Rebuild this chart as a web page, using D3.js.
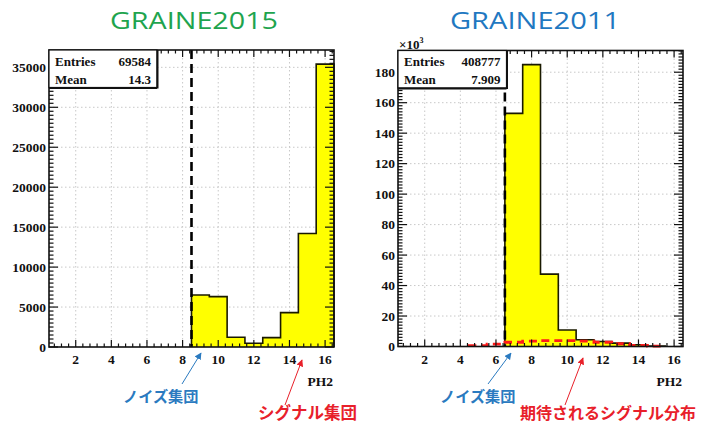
<!DOCTYPE html>
<html>
<head>
<meta charset="utf-8">
<script src="https://cdn.jsdelivr.net/npm/d3@7"></script>
<style>
  html, body { margin: 0; padding: 0; background: #fff; }
  svg { display: block; }
  .tick-label { font-family: "Liberation Serif", "Times New Roman", Times, "DejaVu Serif", serif; font-weight: bold; font-size: 13.5px; fill: #111; }
  .stat { font-family: "Liberation Serif", "Times New Roman", Times, "DejaVu Serif", serif; font-weight: bold; font-size: 13px; fill: #111; }
  .title { font-family: "Open Sans", "Lato", sans-serif; font-size: 24px; }
  .jp { font-family: "Noto Sans CJK JP", sans-serif; font-weight: bold; }
</style>
</head>
<body>
<svg id="chart" width="706" height="423"></svg>
<script>
// PH2 bins: centres of unit-wide bins from 0.5 to 16.5
const ph2Bins = [1, 2, 3, 4, 5, 6, 7, 8, 9, 10, 11, 12, 13, 14, 15, 16];
const xTicks = [2, 4, 6, 8, 10, 12, 14, 16];

// GRAINE2015 counts per bin
const counts2015 = [0, 0, 0, 0, 0, 0, 0, 0, 6500, 6300, 1220, 460, 1170, 4300, 14200, 35400];
const yTicks2015 = [0, 5000, 10000, 15000, 20000, 25000, 30000, 35000];
const stats2015 = { entries: "69584", mean: "14.3" };
const cut2015 = 8.5;

// GRAINE2011 counts per bin, and the expected signal distribution
const counts2011 = [0, 0, 0, 0, 0, 0, 153000, 185000, 47500, 10800, 4400, 3300, 2200, 1100, 300, 0];
const signal2011 = [0, 0, 0, 0, 600, 1600, 2800, 3500, 3900, 3900, 3500, 2800, 1800, 700, 200, 0];
const yTicks2011 = [0, 20, 40, 60, 80, 100, 120, 140, 160, 180]; // in units of 10^3
const stats2011 = { entries: "408777", mean: "7.909" };
const cut2011 = 6.5;

const svg = d3.select("#chart");

function stepPath(x, y, values) {
  // outline of a histogram: from the first filled bin to the last, dropping to zero at both ends
  const idx = values.map((v, i) => v > 0 ? i : -1).filter(i => i >= 0);
  const first = idx[0], last = idx[idx.length - 1];
  const p = d3.path();
  p.moveTo(x(ph2Bins[first] - 0.5), y(0));
  for (let i = first; i <= last; i++) {
    p.lineTo(x(ph2Bins[i] - 0.5), y(values[i]));
    p.lineTo(x(ph2Bins[i] + 0.5), y(values[i]));
  }
  p.lineTo(x(ph2Bins[last] + 0.5), y(0));
  return p.toString();
}

function drawPanel(opts) {
  const { left, right, top, bottom, counts, yScaleFactor, yTicks, yMinor, stats, cut, signal } = opts;
  const g = svg.append("g");
  const x = d3.scaleLinear().domain([0.5, 16.5]).range([left, right]);
  const yMax = d3.max(counts) * 1.05 / yScaleFactor;
  const yv = d3.scaleLinear().domain([0, yMax]).range([bottom, top]);
  const y = v => yv(v / yScaleFactor);

  // dotted grid
  g.append("g").selectAll("line.gx").data(xTicks).join("line")
    .attr("x1", d => x(d)).attr("x2", d => x(d)).attr("y1", top).attr("y2", bottom)
    .attr("stroke", "#c8c8c8").attr("stroke-width", 1).attr("stroke-dasharray", "1.5,2.5");
  g.append("g").selectAll("line.gy").data(yTicks.filter(t => t > 0)).join("line")
    .attr("x1", left).attr("x2", right).attr("y1", d => yv(d)).attr("y2", d => yv(d))
    .attr("stroke", "#c8c8c8").attr("stroke-width", 1).attr("stroke-dasharray", "1.5,2.5");

  // histogram
  g.append("path").attr("d", stepPath(x, y, counts))
    .attr("fill", "#ffff00").attr("stroke", "#1a1a00").attr("stroke-width", 1.6)
    .attr("stroke-linejoin", "miter");

  if (signal) {
    g.append("path").attr("d", stepPath(x, y, signal))
      .attr("fill", "none").attr("stroke", "#ff1a1a").attr("stroke-width", 2.8)
      .attr("stroke-dasharray", "8,5");
  }

  // cut line
  g.append("line").attr("x1", x(cut)).attr("x2", x(cut)).attr("y1", top).attr("y2", bottom)
    .attr("stroke", "#000").attr("stroke-width", 2.6).attr("stroke-dasharray", "9,5");

  // ticks (inward, on all four sides)
  const xMinor = d3.range(0.8, 16.5, 0.4);
  const yMinorTicks = d3.range(0, yMax, yMinor);
  const tk = g.append("g").attr("stroke", "#111").attr("stroke-width", 1.2);
  xMinor.forEach(t => {
    const major = Math.abs(t / 2 - Math.round(t / 2)) < 1e-6;
    const len = major ? 7 : 3.5;
    tk.append("line").attr("x1", x(t)).attr("x2", x(t)).attr("y1", bottom).attr("y2", bottom - len);
    tk.append("line").attr("x1", x(t)).attr("x2", x(t)).attr("y1", top).attr("y2", top + len);
  });
  yMinorTicks.forEach(t => {
    const major = yTicks.some(m => Math.abs(m - t) < 1e-6);
    const len = major ? 9 : 4.5;
    tk.append("line").attr("x1", left).attr("x2", left + len).attr("y1", yv(t)).attr("y2", yv(t));
    tk.append("line").attr("x1", right).attr("x2", right - len).attr("y1", yv(t)).attr("y2", yv(t));
  });

  // frame
  g.append("rect").attr("x", left).attr("y", top).attr("width", right - left).attr("height", bottom - top)
    .attr("fill", "none").attr("stroke", "#111").attr("stroke-width", 1.6);

  // tick labels
  g.append("g").selectAll("text").data(xTicks).join("text").attr("class", "tick-label")
    .attr("x", d => x(d)).attr("y", bottom + 17).attr("text-anchor", "middle").text(d => d);
  g.append("g").selectAll("text").data(yTicks).join("text").attr("class", "tick-label")
    .attr("x", left - 3).attr("y", d => yv(d) + 4.5).attr("text-anchor", "end").text(d => d);

  // axis title
  g.append("text").attr("class", "tick-label").attr("x", right - 1).attr("y", bottom + 39)
    .attr("text-anchor", "end").text("PH2");

  // statistics box
  const bw = opts.boxWidth, bh = 37.5;
  g.append("rect").attr("x", left).attr("y", top).attr("width", bw).attr("height", bh)
    .attr("fill", "#fff").attr("stroke", "#111").attr("stroke-width", 1.2);
  g.append("line").attr("x1", left).attr("x2", left + bw).attr("y1", top + bh + 0.5).attr("y2", top + bh + 0.5)
    .attr("stroke", "#111").attr("stroke-width", 2);
  g.append("line").attr("x1", left + bw + 0.5).attr("x2", left + bw + 0.5).attr("y1", top).attr("y2", top + bh + 1)
    .attr("stroke", "#111").attr("stroke-width", 2);
  g.append("text").attr("class", "stat").attr("x", left + 6).attr("y", top + 15.5).text("Entries");
  g.append("text").attr("class", "stat").attr("x", left + bw - 6).attr("y", top + 15.5)
    .attr("text-anchor", "end").text(stats.entries);
  g.append("text").attr("class", "stat").attr("x", left + 6).attr("y", top + 33.5).text("Mean");
  g.append("text").attr("class", "stat").attr("x", left + bw - 6).attr("y", top + 33.5)
    .attr("text-anchor", "end").text(stats.mean);

  return { x, y, g };
}

drawPanel({
  left: 49, right: 334, top: 50, bottom: 347,
  counts: counts2015, yScaleFactor: 1, yTicks: yTicks2015, yMinor: 500,
  stats: stats2015, cut: cut2015, boxWidth: 108
});

drawPanel({
  left: 398, right: 683, top: 50.5, bottom: 346.5,
  counts: counts2011, yScaleFactor: 1000, yTicks: yTicks2011, yMinor: 2,
  stats: stats2011, cut: cut2011, boxWidth: 108.5, signal: signal2011
});

// x10^3 multiplier on the 2011 axis
const mult = svg.append("text").attr("class", "tick-label").attr("x", 399).attr("y", 48.5).style("font-size", "13px");
mult.append("tspan").text("\u00d710");
mult.append("tspan").attr("dy", -6).style("font-size", "8px").text("3");

// panel titles
svg.append("text").attr("class", "title").attr("x", 110).attr("y", 28.5)
  .attr("textLength", 168).attr("lengthAdjust", "spacingAndGlyphs")
  .attr("fill", "#1ea44e").text("GRAINE2015");
svg.append("text").attr("class", "title").attr("x", 450).attr("y", 28.5)
  .attr("textLength", 170).attr("lengthAdjust", "spacingAndGlyphs")
  .attr("fill", "#1f78c1").text("GRAINE2011");

// annotations
const defs = svg.append("defs");
function marker(id, color) {
  defs.append("marker").attr("id", id).attr("viewBox", "0 0 10 10").attr("refX", 9).attr("refY", 5)
    .attr("markerWidth", 7).attr("markerHeight", 7).attr("orient", "auto-start-reverse")
    .attr("markerUnits", "userSpaceOnUse")
    .append("path").attr("d", "M0,0 L10,5 L0,10 z").attr("fill", color);
}
const blue = "#2a7ac0", red = "#e8202a";
marker("arrow-blue", blue);
marker("arrow-red", red);

const notes = [
  { text: "ノイズ集団", color: blue, size: 15.2, tx: 123, ty: 402, from: [182, 384], to: [201, 353], m: "arrow-blue" },
  { text: "シグナル集団", color: red, size: 16.5, tx: 258, ty: 419, from: [285, 405], to: [302, 360], m: "arrow-red" },
  { text: "ノイズ集団", color: blue, size: 15.2, tx: 440, ty: 402, from: [488, 384], to: [511, 353], m: "arrow-blue" },
  { text: "期待されるシグナル分布", color: red, size: 16, tx: 520, ty: 419, from: [565, 405], to: [583, 358], m: "arrow-red" }
];
notes.forEach(n => {
  svg.append("line").attr("x1", n.from[0]).attr("y1", n.from[1]).attr("x2", n.to[0]).attr("y2", n.to[1])
    .attr("stroke", n.color).attr("stroke-width", 1).attr("marker-end", `url(#${n.m})`);
  svg.append("text").attr("class", "jp").attr("x", n.tx).attr("y", n.ty)
    .style("font-size", n.size + "px").attr("fill", n.color).text(n.text);
});
</script>
</body>
</html>
